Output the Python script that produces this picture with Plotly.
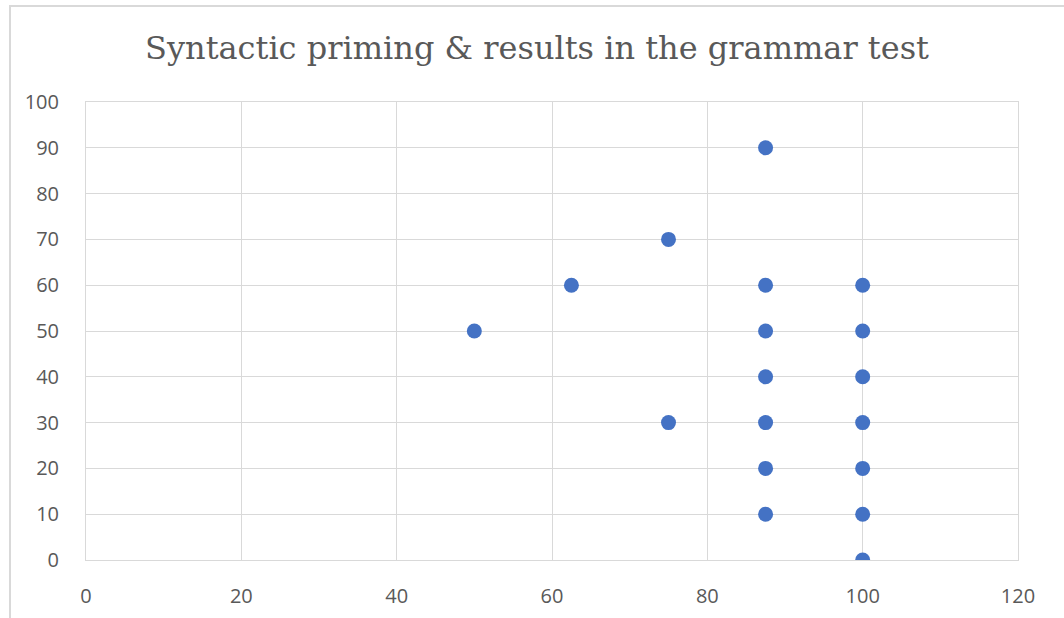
import plotly.graph_objects as go

# Grammar test score (x) vs. syntactic priming score (y)
grammar_score = [87.5, 75, 62.5, 87.5, 100, 50, 87.5, 100, 87.5, 100,
                 75, 87.5, 100, 87.5, 100, 87.5, 100, 100]
priming_score = [90, 70, 60, 60, 60, 50, 50, 50, 40, 40,
                 30, 30, 30, 20, 20, 10, 10, 0]

W, H = 1064, 618
L, R, T, B = 86, 46, 102, 58
pw, ph = W - L - R, H - T - B

grid = "#d9d9d9"
text_col = "#595959"

fig = go.Figure(go.Scatter(
    x=grammar_score, y=priming_score, mode="markers",
    marker=dict(size=15, color="#4472C4", line=dict(width=0)),
    hoverinfo="x+y",
))

def px_x(p):
    return (p - L) / pw

def px_y(p):
    return (H - B - p) / ph

fig.update_layout(
    width=W, height=H,
    margin=dict(l=L, r=R, t=T, b=B),
    paper_bgcolor="white", plot_bgcolor="white",
    showlegend=False,
    title=dict(text="Syntactic priming & results in the grammar test",
               x=537 / W, xref="container", xanchor="center",
               y=1 - 48 / H, yanchor="middle",
               font=dict(family="DejaVu Serif", size=32, color=text_col)),
    xaxis=dict(range=[0, 120], dtick=20, tick0=0, showgrid=True,
               gridcolor=grid, gridwidth=1, zeroline=False,
               showline=True, linecolor=grid, linewidth=1, mirror=True,
               ticks="", ticklen=0, automargin=False,
               tickfont=dict(family="Open Sans", size=20, color=text_col)),
    yaxis=dict(range=[0, 100], dtick=10, tick0=0, showgrid=True,
               gridcolor=grid, gridwidth=1, zeroline=False,
               showline=True, linecolor=grid, linewidth=1, mirror=True,
               ticks="", ticklen=0, automargin=False,
               tickfont=dict(family="Open Sans", size=20, color=text_col)),
    shapes=[dict(type="rect", xref="paper", yref="paper",
                 x0=px_x(10), x1=px_x(1075), y0=px_y(630), y1=px_y(6),
                 line=dict(color=grid, width=2), layer="below")],
)
fig.update_xaxes(ticklabelstandoff=18)
fig.update_yaxes(ticklabelstandoff=22)

fig.write_html("out.html")
